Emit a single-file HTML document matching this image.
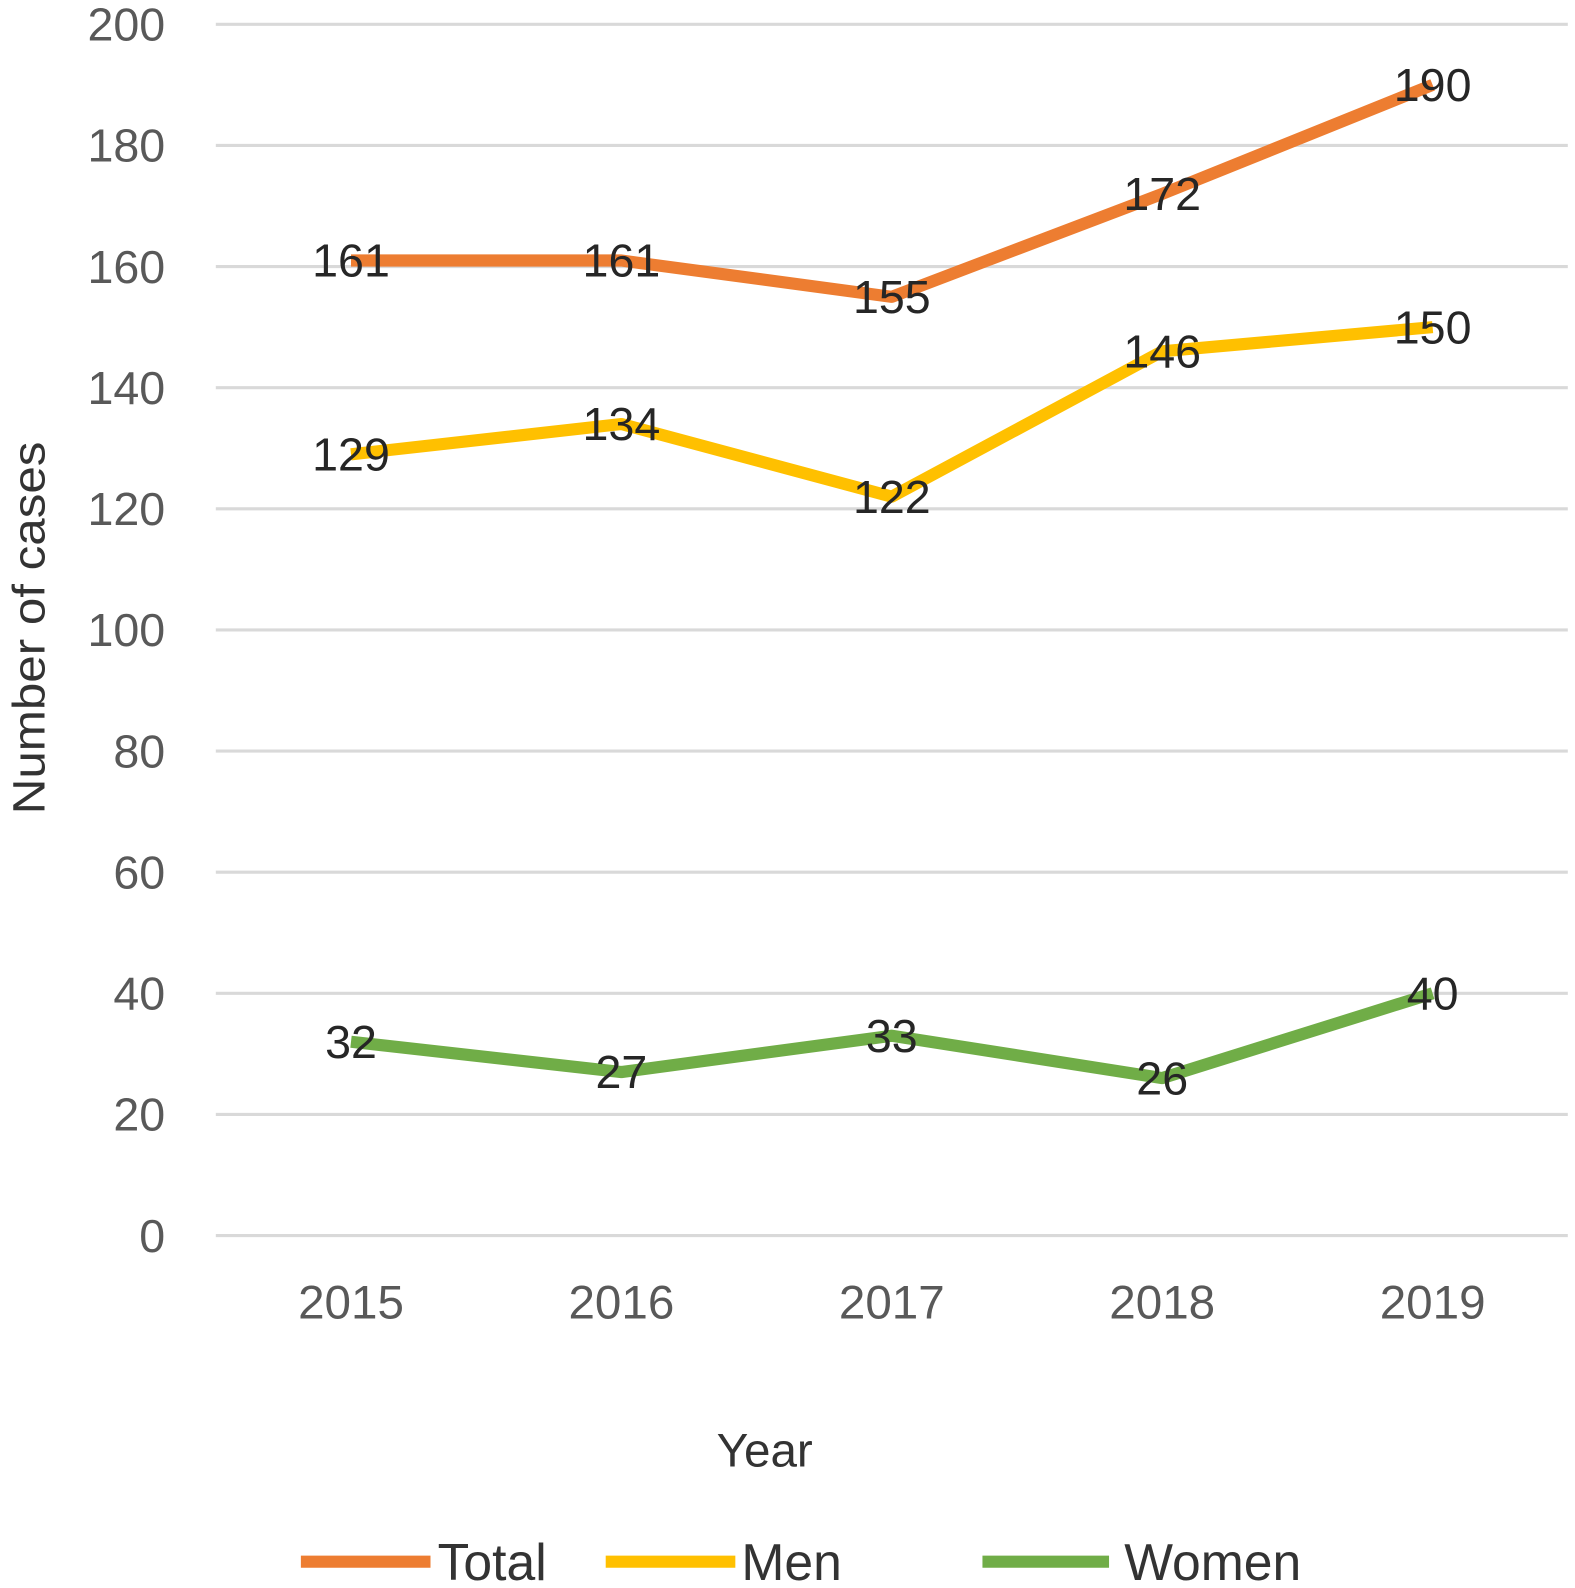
<!DOCTYPE html>
<html><head><meta charset="utf-8"><style>
html,body{margin:0;padding:0;background:#fff;overflow:hidden;width:1575px;height:1588px}
svg{display:block;font-family:"Liberation Sans",sans-serif}
</style></head><body>
<svg id="chart" width="1575" height="1588" viewBox="0 0 1555 1568">
<g id="grid"></g><g id="yticks"></g><g id="xticks"></g><g id="series"></g><g id="labels"></g>
<text x="0" y="0" transform="translate(44,620) rotate(-90)" text-anchor="middle" font-size="45" textLength="368" lengthAdjust="spacingAndGlyphs" fill="#333">Number of cases</text>
<text x="755" y="1448" text-anchor="middle" font-size="47" fill="#333">Year</text>
<g>
<g><line x1="297" y1="1542" x2="425" y2="1542" stroke="#ED7D31" stroke-width="12"/><text x="432" y="1560" font-size="51" fill="#333">Total</text></g>
<g><line x1="598" y1="1542" x2="726" y2="1542" stroke="#FFC000" stroke-width="12"/><text x="732" y="1560" font-size="51" fill="#333">Men</text></g>
<g><line x1="970" y1="1542" x2="1095" y2="1542" stroke="#70AD47" stroke-width="12"/><text x="1110" y="1560" font-size="51" fill="#333">Women</text></g>
</g>
</svg>
<script>
const categories=["2015","2016","2017","2018","2019"];
const totalValues=[161,161,155,172,190];
const menValues=[129,134,122,146,150];
const womenValues=[32,27,33,26,40];
const yTicks=[0,20,40,60,80,100,120,140,160,180,200];
const NS="http://www.w3.org/2000/svg";
const plotLeft=213,plotRight=1548,plotTop=24,plotBottom=1220,yMax=200;
const band=(plotRight-plotLeft)/categories.length;
function xPos(i){return plotLeft+band*(i+0.5);}
function yPos(v){return plotBottom-(v/yMax)*(plotBottom-plotTop);}
function mk(tag,attrs,parent){const e=document.createElementNS(NS,tag);for(const k in attrs)e.setAttribute(k,attrs[k]);parent.appendChild(e);return e;}
const grid=document.getElementById('grid'),yt=document.getElementById('yticks'),xt=document.getElementById('xticks'),ser=document.getElementById('series'),lab=document.getElementById('labels');
yTicks.forEach(v=>{
 const l=mk('line',{x1:plotLeft,x2:plotRight,y1:yPos(v),y2:yPos(v),stroke:'#d9d9d9','stroke-width':3},grid);
 
 
 const t=mk('text',{x:163,y:yPos(v)+16,'text-anchor':'end','font-size':46,fill:'#595959'},yt);
 t.textContent=v;
 
 
});
categories.forEach((c,i)=>{
 const t=mk('text',{x:xPos(i),y:1302,'text-anchor':'middle','font-size':47,fill:'#595959'},xt);
 t.textContent=c;
 
 
});
[[totalValues,'#ED7D31','total'],[menValues,'#FFC000','men'],[womenValues,'#70AD47','women']].forEach(([vals,col,name])=>{
 const p=mk('polyline',{points:vals.map((v,i)=>xPos(i)+','+yPos(v)).join(' '),fill:'none',stroke:col,'stroke-width':12,'stroke-linejoin':'round'},ser);
 
 
 vals.forEach((v,i)=>{
  const t=mk('text',{x:xPos(i),y:yPos(v)+16,'text-anchor':'middle','font-size':46,fill:'#262626'},lab);
  t.textContent=v;
  
  
 });
});
</script>
</body></html>
